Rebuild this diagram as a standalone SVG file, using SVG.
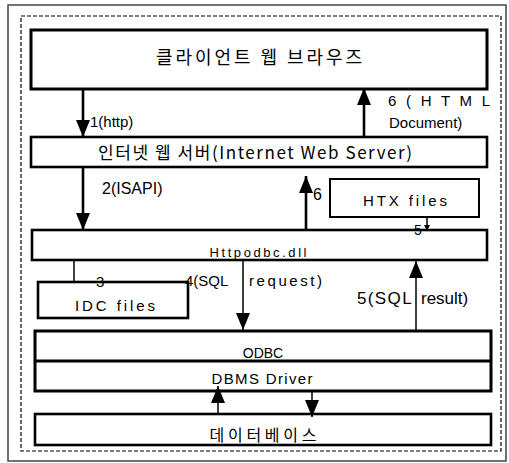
<svg xmlns="http://www.w3.org/2000/svg" width="509" height="463" viewBox="0 0 509 463">
<style>
.box{fill:#fff;stroke:#000}
.t{font-family:"Liberation Sans","Noto Sans CJK KR",sans-serif;fill:#000}
.k{font-family:"Noto Sans CJK KR","Liberation Sans",sans-serif;fill:#000}
.c{text-anchor:middle}
.thick{stroke:#000;stroke-width:2.6;fill:none}
.thin{stroke:#000;stroke-width:1.5;fill:none}
</style>
<defs>
<marker id="ah" markerUnits="userSpaceOnUse" markerWidth="17" markerHeight="14" refX="17" refY="7" orient="auto">
<path d="M0,0 L17,7 L0,14 z" fill="#000"/>
</marker>
<marker id="ahs" markerUnits="userSpaceOnUse" markerWidth="6" markerHeight="6" refX="6" refY="3" orient="auto">
<path d="M0,0 L6,3 L0,6 z" fill="#000"/>
</marker>
</defs>
<rect x="0" y="0" width="509" height="463" fill="#fff"/>
<rect x="8" y="5" width="498" height="456" fill="none" stroke="#444" stroke-width="1.5"/>
<rect x="21" y="16" width="480" height="435" fill="none" stroke="#000" stroke-width="1.2" stroke-dasharray="4 2"/>

<g id="client">
<rect class="box" x="31" y="30" width="456" height="59" stroke-width="3"/>
<text class="k c" x="259" y="64" font-size="18" textLength="206" lengthAdjust="spacing">클라이언트 웹 브라우즈</text>
</g>
<g id="webserver">
<rect class="box" x="31" y="137" width="456" height="30" stroke-width="2.6"/>
<text class="k c" x="255" y="159" font-size="17" textLength="314" lengthAdjust="spacing">인터넷 웹 서버(Internet Web Server)</text>
</g>
<g id="htx">
<rect class="box" x="330" y="179" width="149" height="38" stroke-width="2"/>
<text class="t c" x="405" y="206" font-size="15" textLength="84" lengthAdjust="spacing">HTX files</text>
</g>
<g id="httpodbc">
<rect class="box" x="32" y="230" width="455" height="30" stroke-width="2.6"/>
<text class="t c" x="258" y="257" font-size="13" textLength="97" lengthAdjust="spacing">Httpodbc.dll</text>
</g>
<g id="idc">
<rect class="box" x="38" y="282" width="150" height="36" stroke-width="2.6"/>
<text class="t c" x="115" y="311" font-size="15" textLength="80" lengthAdjust="spacing">IDC files</text>
</g>
<g id="odbc">
<rect class="box" x="35" y="331" width="456" height="60" stroke-width="3"/>
<line x1="35" y1="361" x2="491" y2="361" stroke="#000" stroke-width="3"/>
<text class="t c" x="263" y="358" font-size="14">ODBC</text>
<text class="t c" x="262" y="384" font-size="15" textLength="101" lengthAdjust="spacing">DBMS Driver</text>
</g>
<g id="database">
<rect class="box" x="35" y="414" width="456" height="31" stroke-width="2.6"/>
<text class="k c" x="263" y="441" font-size="16" textLength="107" lengthAdjust="spacing">데이터베이스</text>
</g>

<g id="connectors">
<line class="thick" x1="83" y1="90" x2="83" y2="137" marker-end="url(#ah)"/>
<line class="thick" x1="364" y1="137" x2="364" y2="88" marker-end="url(#ah)"/>
<line class="thick" x1="83" y1="168" x2="83" y2="230" marker-end="url(#ah)"/>
<line class="thick" x1="306" y1="229" x2="306" y2="176" marker-end="url(#ah)"/>
<line class="thin" x1="427" y1="218" x2="427" y2="231" marker-end="url(#ahs)"/>
<line class="thin" x1="74" y1="261" x2="74" y2="282"/>
<line class="thin" x1="243" y1="261" x2="243" y2="330" marker-end="url(#ah)"/>
<line class="thin" x1="416" y1="330" x2="416" y2="261" marker-end="url(#ah)"/>
<line class="thin" x1="218" y1="414" x2="218" y2="386" stroke-width="2" marker-end="url(#ah)"/>
<line class="thin" x1="312" y1="392" x2="312" y2="417" stroke-width="2" marker-end="url(#ah)"/>
</g>

<g id="labels">
<text class="t" x="90" y="127" font-size="15">1(http)</text>
<text class="t" x="388" y="106" font-size="15" textLength="102" lengthAdjust="spacing">6 ( H T M L</text>
<text class="t" x="389" y="128" font-size="15">Document)</text>
<text class="t" x="102" y="194" font-size="16">2(ISAPI)</text>
<text class="t" x="313" y="200" font-size="16">6</text>
<text class="t" x="414" y="235" font-size="14">5</text>
<text class="t" x="96" y="287" font-size="15">3</text>
<text class="t" x="185" y="286" font-size="15"><tspan x="185">4(SQL </tspan><tspan x="249" textLength="73" lengthAdjust="spacing">request)</tspan></text>
<text class="t" x="357" y="304" font-size="17"><tspan x="357" textLength="54" lengthAdjust="spacing">5(SQL</tspan> <tspan x="421">result)</tspan></text>
</g>
</svg>
